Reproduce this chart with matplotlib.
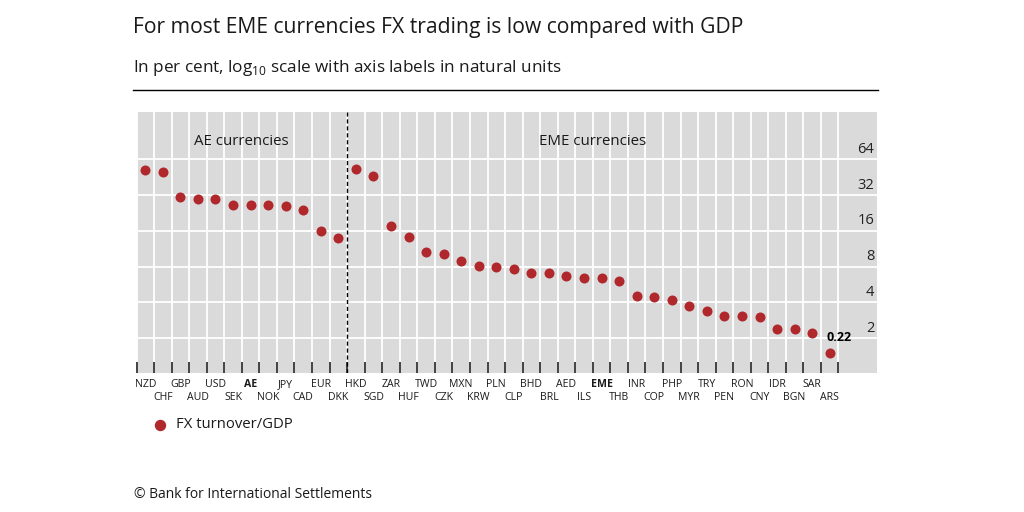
import numpy as np
import matplotlib
matplotlib.use("Agg")
import matplotlib.pyplot as plt
from matplotlib.transforms import blended_transform_factory

# ============================
# DATA
# ============================
ae_currencies = ["NZD", "CHF", "GBP", "AUD", "USD", "SEK", "AE", "NOK",
                 "JPY", "CAD", "EUR", "DKK"]
eme_currencies = ["HKD", "SGD", "ZAR", "HUF", "TWD", "CZK", "MXN", "KRW",
                  "PLN", "CLP", "BHD", "BRL", "AED", "ILS", "EME", "THB",
                  "INR", "COP", "PHP", "MYR", "TRY", "PEN", "RON", "CNY",
                  "IDR", "BGN", "SAR", "ARS"]
ae_turnover_gdp = [51.3, 49.4, 30.6, 29.8, 29.7, 26.4, 26.4, 26.1,
                   25.8, 24.0, 16.0, 13.8]
eme_turnover_gdp = [53.0, 46.3, 17.6, 14.3, 10.7, 10.2, 8.9, 8.1,
                    8.0, 7.6, 7.1, 7.0, 6.6, 6.4, 6.4, 6.1,
                    4.5, 4.4, 4.2, 3.7, 3.4, 3.1, 3.1, 3.0,
                    2.4, 2.4, 2.2, 0.22]
aggregates = ["AE", "EME"]
y_ticks = [2, 4, 8, 16, 32, 64]

# ============================
# STYLE
# ============================
FONT = ["Open Sans", "DejaVu Sans"]
plt.rcParams["font.family"] = FONT
plt.rcParams["mathtext.fontset"] = "custom"
plt.rcParams["mathtext.rm"] = "Open Sans"

dot_color = "#b0282c"
bg_color = "#dadada"
text_color = "#1a1a1a"
plot_floor = 1.5        # values below the axis are pinned here and labelled
y_min, y_max = 1.02, 159


def xdata_yaxes(ax):
    return blended_transform_factory(ax.transData, ax.transAxes)


def main():
    labels = ae_currencies + eme_currencies
    values = np.array(ae_turnover_gdp + eme_turnover_gdp)
    x = np.arange(len(labels))
    n_ae = len(ae_currencies)

    fig = plt.figure(figsize=(10.24, 5.12), dpi=100)
    ax = fig.add_axes([136.5 / 1024, 1 - 373 / 512, 740.5 / 1024, 261 / 512])
    ax.set_facecolor(bg_color)
    for s in ax.spines.values():
        s.set_visible(False)

    ax.set_yscale("log")
    ax.set_ylim(y_min, y_max)
    ax.set_xlim(-0.5, -0.5 + 740.5 / 17.55)

    # horizontal grid
    ax.set_yticks(y_ticks)
    ax.set_yticks([], minor=True)
    ax.yaxis.set_ticklabels([])
    ax.tick_params(axis="y", which="both", length=0)
    ax.grid(True, axis="y", which="major", color="white", linewidth=1.3)

    # category boundaries: ticks + vertical grid
    bounds = np.arange(len(labels) + 1) - 0.5
    ax.set_xticks(bounds, minor=True)
    ax.set_xticks([])
    ax.tick_params(axis="x", which="minor", direction="in", length=8,
                   width=1.1, color="#111111", labelbottom=False)
    ax.grid(True, axis="x", which="minor", color="white", linewidth=1.3)
    ax.set_axisbelow(True)

    # right side value labels, sitting above the gridlines
    ytrans = blended_transform_factory(ax.transAxes, ax.transData)
    for v in y_ticks:
        ax.annotate(str(v), xy=(1, v), xycoords=ytrans, xytext=(-2, 7),
                    textcoords="offset points", ha="right", va="center",
                    fontsize=10.5, color="#222222")

    # divider between AE and EME
    ax.axvline(n_ae - 0.5, color="black", linestyle=(0, (3, 2)), linewidth=1)

    xtrans = xdata_yaxes(ax)
    ax.text((n_ae - 1) / 2, 0.888, "AE currencies", transform=xtrans,
            ha="center", va="center", fontsize=10.8, color=text_color)
    ax.text(n_ae + (len(eme_currencies) - 1) / 2, 0.888, "EME currencies",
            transform=xtrans, ha="center", va="center", fontsize=10.8,
            color=text_color)

    # dots
    shown = np.maximum(values, plot_floor)
    ax.scatter(x, shown, s=52, color=dot_color, zorder=3, linewidths=0)
    for xi, v in zip(x, values):
        if v < plot_floor:
            ax.annotate(f"{v:g}", xy=(xi, plot_floor), xytext=(7, 11),
                        textcoords="offset points", ha="center", va="center",
                        fontsize=9, fontweight="bold", color="black")

    # two-row category labels
    for i, lab in enumerate(labels):
        row_y = -0.043 if i % 2 == 0 else -0.093
        ax.text(i, row_y, lab, transform=xtrans, ha="center", va="center",
                fontsize=7.6, color=text_color,
                fontweight="bold" if lab in aggregates else "normal")

    # title block
    fig.text(133 / 1024, 1 - 28 / 512,
             "For most EME currencies FX trading is low compared with GDP",
             fontsize=15.2, color=text_color, va="center")
    fig.text(133 / 1024, 1 - 68 / 512,
             r"In per cent, log$_{10}$ scale with axis labels in natural units",
             fontsize=12.3, color=text_color, va="center")
    fig.add_artist(plt.Line2D([133 / 1024, 878 / 1024],
                              [1 - 90 / 512, 1 - 90 / 512],
                              color="black", linewidth=1))

    # legend
    fig.add_artist(plt.Line2D([160 / 1024], [1 - 425 / 512], marker="o",
                              markersize=7.2, color=dot_color, linestyle=""))
    fig.text(176 / 1024, 1 - 425 / 512, "FX turnover/GDP", fontsize=10.7,
             color=text_color, va="center")

    fig.text(134 / 1024, 1 - 495 / 512, "\u00a9 Bank for International Settlements",
             fontsize=10, color=text_color, va="center")

    fig.savefig("out.png", dpi=100)


if __name__ == "__main__":
    main()
